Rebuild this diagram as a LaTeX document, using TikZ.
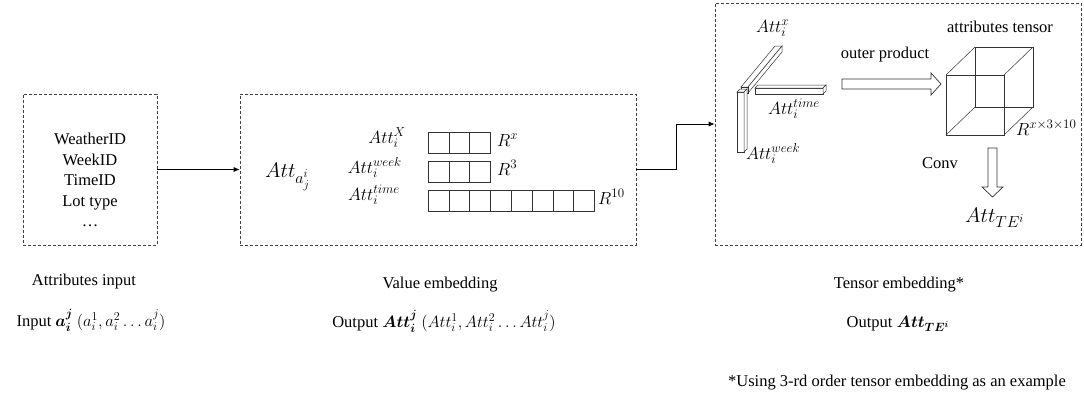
\RequirePackage{fix-cm}
\documentclass[tikz,border=0pt]{standalone}
\usepackage{fontspec}
\setmainfont{Liberation Serif}
\usepackage{amsmath,bm}
\usetikzlibrary{arrows.meta}
% roomier script sizes for the formula labels
\DeclareMathSizes{16.5}{16.5}{12}{9}
\DeclareMathSizes{17.5}{17.5}{13}{10}
\DeclareMathSizes{21}{21}{16}{12}

\begin{document}
\begin{tikzpicture}[x=1pt,y=-1pt,
  box/.style={draw=black!75, dash pattern=on 3pt off 2pt, line width=0.7pt, inner sep=0pt},
  lbl/.style={font=\fontsize{16.5}{20.5}\selectfont, inner sep=0pt},
  mth/.style={font=\fontsize{17.5}{20}\selectfont, inner sep=0pt},
  big/.style={font=\fontsize{21}{24}\selectfont, inner sep=0pt},
  conn/.style={line width=0.7pt, -{Latex[length=6pt,width=5pt]}},
  cellbox/.style={draw=black!80, line width=0.6pt},
  wire/.style={draw=black!80, line width=0.5pt, fill=white},
  hollow/.style={draw=black!80, line width=0.7pt, fill=white}
]
\useasboundingbox (0,0) rectangle (1084,399);

% ---- attributes input ----
\node[box, minimum width=134pt, minimum height=151pt] (inbox) at (90,169.5) {};
\node[lbl, align=center] (inlist) at (90,180) {WeatherID\\WeekID\\TimeID\\Lot type\\…};

% ---- value embedding ----
\node[box, minimum width=396pt, minimum height=151pt] (valbox) at (438,169.5) {};
\draw[conn] (inbox.east) -- (valbox.west);

\node[big, anchor=base west] (attaj) at (265,177) {$Att_{a_j^i}$};
\node[mth, anchor=base east] (lx) at (406,143) {$Att_i^X$};
\node[mth, anchor=base east] (lweek) at (402,173) {$Att_i^{week}$};
\node[mth, anchor=base east] (ltime) at (400,200) {$Att_i^{time}$};

\foreach \k in {0,1,2} {
  \draw[cellbox] (428+20.8*\k,132) rectangle ++(20.8,21);
  \draw[cellbox] (428+20.8*\k,161) rectangle ++(20.8,21);
}
\foreach \k in {0,...,7}
  \draw[cellbox] (428+20.8*\k,190) rectangle ++(20.8,21);

\node[mth, anchor=base west] (rx) at (497,146) {$R^x$};
\node[mth, anchor=base west] (r3) at (497,175) {$R^3$};
\node[mth, anchor=base west] (r10) at (598,204) {$R^{10}$};

% ---- tensor embedding ----
\node[box, minimum width=366pt, minimum height=242pt] (tenbox) at (898,124) {};
\draw[conn] (valbox.east) -- ++(40,0) |- (tenbox.west);

% bar of the x values, running into depth
\draw[wire] (741,87) -- (775,46) -- (782,46) -- (748,87) -- cycle;
\draw[wire] (748,87) -- (782,46) -- (782,52) -- (748,93) -- cycle;
\draw[wire] (741,87) rectangle (748,93);
% bar of the time values, horizontal
\draw[wire] (755,88) rectangle (823,94);
\draw[wire] (755,88) -- (758,85) -- (826,85) -- (823,88) -- cycle;
\draw[wire] (823,88) -- (826,85) -- (826,91) -- (823,94) -- cycle;
% bar of the week values, vertical
\draw[wire] (737,92) rectangle (744,152);
\draw[wire] (737,92) -- (740,89) -- (747,89) -- (744,92) -- cycle;
\draw[wire] (744,92) -- (747,89) -- (747,149) -- (744,152) -- cycle;

\node[mth, anchor=base west] (bx) at (756,32) {$Att_i^x$};
\node[mth, anchor=base west] (btime) at (768,114) {$Att_i^{time}$};
\node[mth, anchor=base west] (bweek) at (746,159) {$Att_i^{week}$};

% outer product arrow
\draw[hollow] (842,79) -- (931,79) -- (931,73) -- (941,84) -- (931,95) -- (931,89) -- (842,89) -- cycle;
\node[lbl, anchor=base] (outer) at (885,58) {outer product};

% attributes tensor as a wire cube
\draw[wire, fill=none] (975,47) rectangle (1033,107);
\draw[wire, fill=none] (946,75) rectangle (1004,135);
\draw[wire] (946,75) -- (975,47) (1004,75) -- (1033,47)
            (1004,135) -- (1033,107) (946,135) -- (975,107);
\node[lbl, anchor=base] (tlabel) at (1000,32) {attributes tensor};
\node[mth, anchor=base west] (rten) at (1016,135) {$R^{x\times3\times10}$};

% convolution arrow
\draw[hollow] (988,148) -- (997,148) -- (997,187) -- (1003,187) -- (992.5,197) -- (982,187) -- (988,187) -- cycle;
\node[lbl, anchor=base] (conv) at (940,168) {Conv};
\node[big, anchor=base west] (atte) at (965,222) {$Att_{TE^i}$};

% ---- captions ----
\node[lbl, anchor=base] (c1) at (84,285) {Attributes input};
\node[lbl, anchor=base] (c1b) at (91,326) {Input $\bm{a}_{\bm i}^{\bm j}$ $(a_i^1, a_i^2 \ldots a_i^j)$};
\node[lbl, anchor=base] (c2) at (440,288) {Value embedding};
\node[lbl, anchor=base] (c2b) at (444,327) {Output $\bm{Att}_{\bm i}^{\bm j}$ $(Att_i^1, Att_i^2 \ldots Att_i^j)$};
\node[lbl, anchor=base] (c3) at (899,288) {Tensor embedding*};
\node[lbl, anchor=base] (c3b) at (898,327) {Output $\bm{Att}_{\bm{TE}^{\bm i}}$};
\node[lbl, anchor=base] (note) at (897,386) {*Using 3-rd order tensor embedding as an example};
\end{tikzpicture}
\end{document}
